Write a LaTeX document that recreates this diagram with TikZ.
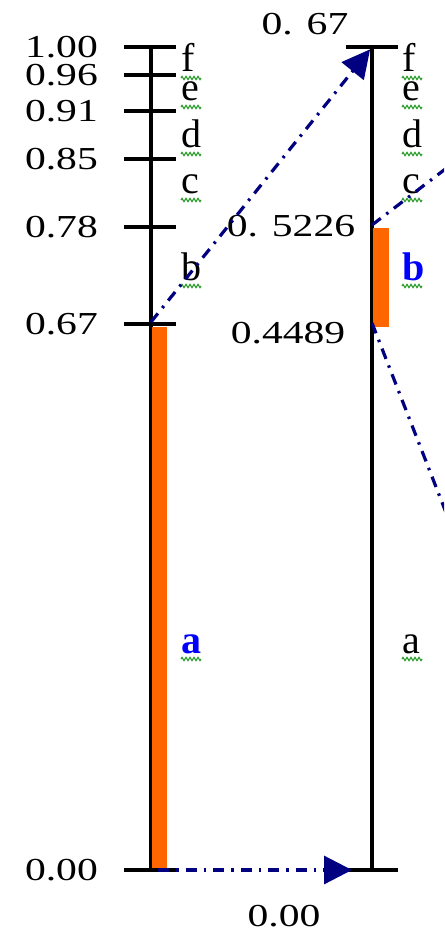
\documentclass[tikz,border=0pt]{standalone}
\usepackage{fontspec}
\setmainfont{Liberation Serif}
\usepackage{graphicx}
\usetikzlibrary{arrows.meta, decorations.pathmorphing, calc}
\definecolor{barorange}{RGB}{255,102,0}
\definecolor{arrnavy}{RGB}{0,0,128}
\definecolor{wavy}{RGB}{50,160,50}
\newcommand{\num}[1]{\scalebox{1.3}[1]{#1}}

\begin{document}
\begin{tikzpicture}[
    x=1pt, y=-1pt,
    axis/.style={line width=3.5pt},
    tick/.style={line width=3.5pt},
    val/.style={font=\fontsize{32}{32}\selectfont, inner sep=0pt},
    sym/.style={font=\fontsize{40}{40}\selectfont, inner sep=0pt, anchor=base west},
    hit/.style={sym, text=blue, font=\fontsize{40}{40}\selectfont\bfseries},
    bar/.style={fill=barorange, draw=none},
    arr/.style={arrnavy, line width=3.2pt, dash pattern=on 11pt off 7pt on 2.5pt off 7pt, -{Triangle[length=28pt,width=28pt]}},
    wave/.style={wavy, line width=1.2pt, decorate, decoration={zigzag, segment length=4pt, amplitude=1.6pt}}
]
\useasboundingbox (0,0) rectangle (444,933);
\clip (0,0) rectangle (444,933);

% the two axes
\coordinate (Ltop) at (151,47);
\coordinate (Lbot) at (151,870);
\coordinate (Rtop) at (372,47);
\coordinate (Rbot) at (372,870);
\draw[axis] (Ltop) -- (Lbot);
\draw[axis] (Rtop) -- (Rbot);

% chosen intervals
\fill[bar] (152,327) rectangle (167,868);
\fill[bar] (373,228) rectangle (389,327);

% left scale
\foreach \y/\v [count=\i] in {47/1.00, 75/0.96, 111/0.91, 159/0.85, 227/0.78, 324/0.67, 870/0.00} {
  \draw[tick] (124,\y) -- (176,\y);
  \node[val, anchor=east] (lv\i) at (98,\y) {\num{\v}};
}
% right scale
\draw[tick] (346,47) -- (398,47);
\draw[tick] (346,870) -- (398,870);
\node[val] (rtop) at (305,24) {\num{0. 67}};
\node[val] (rhi) at (291,226) {\num{0. 5226}};
\node[val] (rlo) at (288,333) {\num{0.4489}};
\node[val] (rzero) at (284,916) {\num{0.00}};

% symbols
\foreach \y/\t/\s [count=\i] in {72/f/sym, 101/e/sym, 148/d/sym, 194/c/sym, 280/b/sym, 653/a/hit} {
  \node[\s] (lt\i) at (181,\y) {\t};
  \draw[wave] ($(lt\i.base west)+(0,6)$) -- ++(20,0);
}
\foreach \y/\t/\s [count=\i] in {72/f/sym, 101/e/sym, 148/d/sym, 194/c/sym, 280/b/hit, 653/a/sym} {
  \node[\s] (rt\i) at (402,\y) {\t};
  \draw[wave] ($(rt\i.base west)+(0,6)$) -- ++(20,0);
}

% mapping
\coordinate (L67) at (151,322);
\coordinate (R52) at (372,225);
\coordinate (R45) at (372,323);
\coordinate (outA) at (520,112);
\coordinate (outB) at (470,574);
\draw[arr, shorten >=3pt] (L67) -- (Rtop);
\draw[arr, shorten <=7pt, shorten >=20pt] (Lbot) -- (Rbot);
\draw[arr, -] (R52) -- (outA);
\draw[arr, -] (R45) -- (outB);
\end{tikzpicture}
\end{document}
